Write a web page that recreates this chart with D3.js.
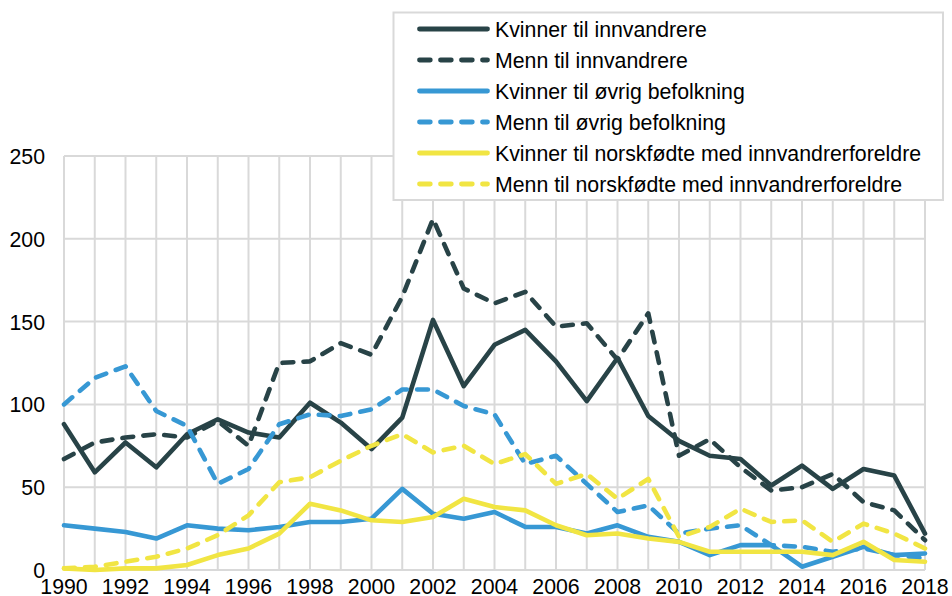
<!DOCTYPE html>
<html>
<head>
<meta charset="utf-8">
<script src="https://cdn.jsdelivr.net/npm/d3@7"></script>
<style>
  html, body { margin: 0; padding: 0; background: #fff; }
  svg { display: block; }
  text { font-family: "Liberation Sans", Arial, sans-serif; font-size: 21.3px; fill: #000; }
</style>
</head>
<body>
<svg id="chart" width="952" height="596"></svg>
<script>
const years = d3.range(1990, 2019);
const yTicks = [0, 50, 100, 150, 200, 250];
const xTickLabels = years.filter(y => y % 2 === 0);

const kvinnerInnv  = [88,59,77,62,82,91,83,80,101,89,73,92,151,111,136,145,126,102,128,93,78,69,67,51,63,49,61,57,22];
const mennInnv     = [67,77,80,82,80,90,75,125,126,137,130,165,212,170,161,168,147,149,127,155,69,79,62,48,50,58,41,36,18];
const kvinnerOvrig = [27,25,23,19,27,25,24,26,29,29,31,49,34,31,35,26,26,22,27,20,17,9,15,15,2,8,14,9,10];
const mennOvrig    = [100,116,123,96,87,52,61,88,94,93,97,109,109,99,94,64,69,52,35,39,22,25,27,15,14,11,13,9,7];
const kvinnerNorsk = [1,0,1,1,3,9,13,22,40,36,30,29,32,43,38,36,27,21,22,19,17,11,11,11,11,9,17,6,5];
const mennNorsk    = [1,2,5,8,13,21,33,53,56,66,75,82,71,75,64,70,52,58,43,55,20,26,37,29,30,17,28,22,13];

const seriesNames = [
  "Kvinner til innvandrere",
  "Menn til innvandrere",
  "Kvinner til øvrig befolkning",
  "Menn til øvrig befolkning",
  "Kvinner til norskfødte med innvandrerforeldre",
  "Menn til norskfødte med innvandrerforeldre"
];
const seriesValues = [kvinnerInnv, mennInnv, kvinnerOvrig, mennOvrig, kvinnerNorsk, mennNorsk];

const DARK = "#284347", BLUE = "#3798d4", YELLOW = "#f1e543";
const colors = [DARK, DARK, BLUE, BLUE, YELLOW, YELLOW];
const dashed = [false, true, false, true, false, true];

const svg = d3.select("#chart");
const x = d3.scalePoint().domain(years).range([64, 925]);
const y = d3.scaleLinear().domain([0, 250]).range([570, 156]);

// grid
const grid = svg.append("g");
grid.selectAll("line.h").data(yTicks).join("line")
  .attr("x1", x.range()[0]).attr("x2", x.range()[1])
  .attr("y1", d => y(d)).attr("y2", d => y(d))
  .attr("stroke", "#d9d9d9").attr("stroke-width", 2);
grid.selectAll("line.v").data(years).join("line")
  .attr("x1", d => x(d)).attr("x2", d => x(d))
  .attr("y1", y(0)).attr("y2", y(250))
  .attr("stroke", "#d9d9d9").attr("stroke-width", 2);

// y axis labels
svg.append("g").selectAll("text").data(yTicks).join("text")
  .attr("x", 45).attr("y", d => y(d) + 8)
  .attr("text-anchor", "end")
  .text(d => d);

// x axis labels
svg.append("g").selectAll("text").data(xTickLabels).join("text")
  .attr("x", d => x(d)).attr("y", 594)
  .attr("text-anchor", "middle")
  .text(d => d);

// lines
const line = d3.line().x((d, i) => x(years[i])).y(d => y(d));
seriesValues.forEach((vals, k) => {
  svg.append("path")
    .attr("d", line(vals))
    .attr("fill", "none")
    .attr("stroke", colors[k])
    .attr("stroke-width", 4.6)
    .attr("stroke-linejoin", "round")
    .attr("stroke-linecap", "round")
    .attr("stroke-dasharray", dashed[k] ? "10.8,10.2" : null);
});

// legend
const lg = svg.append("g");
lg.append("rect")
  .attr("x", 393.5).attr("y", 12.5).attr("width", 549.5).attr("height", 187.5)
  .attr("fill", "#fff").attr("stroke", "#d9d9d9").attr("stroke-width", 2);
seriesNames.forEach((name, k) => {
  const cy = 29 + 31 * k;
  lg.append("line")
    .attr("x1", 419.5).attr("x2", 487.5).attr("y1", cy).attr("y2", cy)
    .attr("stroke", colors[k]).attr("stroke-width", 4.8)
    .attr("stroke-linecap", "round")
    .attr("stroke-dasharray", dashed[k] ? "10.8,10.2" : null);
  lg.append("text").attr("x", 495).attr("y", cy + 7.5).text(name);
});
</script>
</body>
</html>
